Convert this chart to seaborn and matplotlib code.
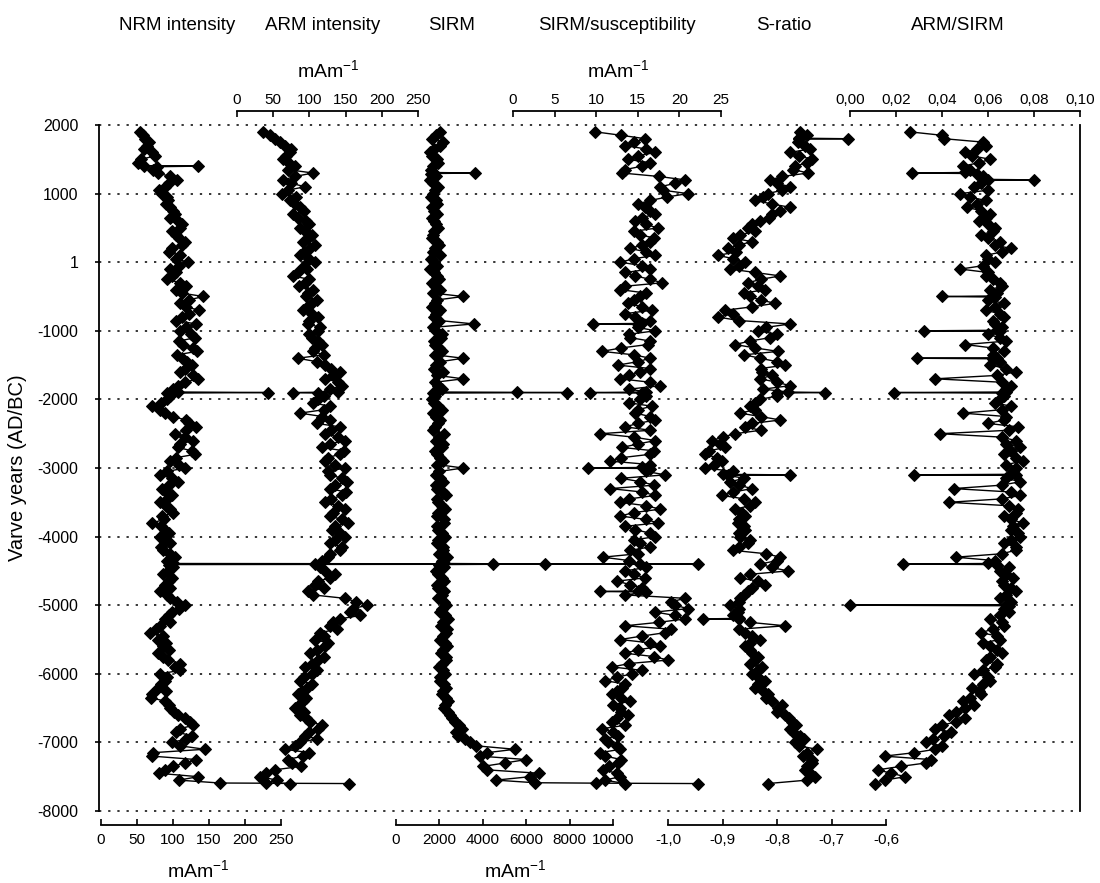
import numpy as np
import pandas as pd
import matplotlib
matplotlib.use("Agg")
import matplotlib.pyplot as plt
import seaborn as sns

# varve years (AD/BC) of the samples, shared by all six profiles
years = [1900, 1800, 1700, 1600, 1500, 1400, 1300, 1200, 1100, 1000,
         900, 800, 700, 600, 500, 400, 300, 200, 100, 0,
         -100, -200, -300, -400, -500, -600, -700, -800, -900, -1000,
         -1100, -1200, -1300, -1400, -1500, -1600, -1700, -1800, -1900, -2000,
         -2100, -2200, -2300, -2400, -2500, -2600, -2700, -2800, -2900, -3000,
         -3100, -3200, -3300, -3400, -3500, -3600, -3700, -3800, -3900, -4000,
         -4100, -4200, -4300, -4400, -4500, -4600, -4700, -4800, -4900, -5000,
         -5100, -5200, -5300, -5400, -5500, -5600, -5700, -5800, -5900, -6000,
         -6100, -6200, -6300, -6400, -6500, -6600, -6700, -6800, -6900, -7000,
         -7100, -7200, -7300, -7400, -7500, -7600]
# samples in between
mid_years = [1850, 1750, 1650, 1550, 1450, 1350, 1250, 1150, 1050, 950,
             850, 750, 650, 550, 450, 350, 250, 150, 50, -50,
             -150, -250, -350, -450, -550, -650, -750, -850, -950, -1050,
             -1150, -1250, -1350, -1450, -1550, -1650, -1750, -1850, -1950, -2050,
             -2150, -2250, -2350, -2450, -2550, -2650, -2750, -2850, -2950, -3050,
             -3150, -3250, -3350, -3450, -3550, -3650, -3750, -3850, -3950, -4050,
             -4150, -4250, -4350, -4450, -4550, -4650, -4750, -4850, -4950, -5050,
             -5150, -5250, -5350, -5450, -5550, -5650, -5750, -5850, -5950, -6050,
             -6150, -6250, -6350, -6450, -6550, -6650, -6750, -6850, -6950, -7050,
             -7150, -7250, -7350, -7450, -7550]

nrm = [54, 61, 64, 71, 56, 135, 79, 106, 89, 85,
       93, 96, 103, 107, 110, 104, 117, 99, 110, 121,
       96, 99, 110, 104, 142, 110, 136, 113, 132, 110,
       131, 114, 133, 113, 126, 110, 135, 107, 232, 92,
       71, 89, 118, 132, 103, 128, 107, 131, 96, 117,
       82, 107, 85, 99, 82, 96, 85, 71, 89, 82,
       96, 86, 103, 829, 93, 99, 89, 82, 96, 117,
       99, 89, 82, 68, 79, 86, 79, 93, 103, 82,
       89, 79, 71, 89, 96, 107, 124, 110, 126, 99,
       144, 71, 117, 89, 135, 344]
nrm_mid = [58, 66, 60, 75, 51, 72, 96, 95, 80, 92,
           90, 100, 96, 112, 98, 108, 112, 94, 104, 108,
           104, 92, 118, 112, 122, 118, 122, 104, 118, 125,
           108, 128, 106, 120, 116, 128, 116, 100, 96, 84,
           82, 100, 122, 118, 116, 110, 126, 104, 108, 92,
           98, 94, 90, 92, 90, 100, 88, 84, 94, 90,
           84, 96, 92, 100, 86, 94, 96, 92, 106, 108,
           94, 96, 76, 86, 90, 94, 86, 110, 110, 92,
           84, 90, 70, 94, 102, 116, 128, 104, 118, 110,
           72, 132, 100, 80, 108]
# extra samples right next to the spikes
nrm_extra_years = [1408, 1392, -1892, -1908, -4392, -4408, -7592]
nrm_extra = [60, 78, 107, 92, 100, 95, 165]

arm = [36, 52, 66, 73, 64, 80, 105, 64, 94, 62,
       73, 87, 77, 95, 87, 104, 91, 101, 87, 108,
       97, 77, 94, 105, 95, 104, 91, 112, 98, 112,
       104, 117, 105, 84, 122, 142, 122, 145, 77, 112,
       128, 87, 128, 142, 122, 149, 117, 142, 122, 149,
       128, 152, 128, 145, 122, 149, 128, 153, 131, 149,
       128, 142, 126, 108, 122, 128, 108, 98, 149, 180,
       156, 142, 128, 115, 108, 122, 101, 112, 94, 104,
       87, 97, 84, 91, 80, 87, 101, 112, 94, 87,
       66, 91, 76, 52, 32, 73]
arm_mid = [45, 60, 75, 68, 72, 70, 80, 75, 70, 82,
           80, 92, 84, 100, 94, 98, 108, 92, 100, 92,
           84, 100, 86, 98, 110, 96, 104, 100, 115, 100,
           112, 108, 120, 110, 130, 132, 140, 128, 120, 105,
           120, 118, 110, 130, 140, 128, 148, 125, 135, 125,
           145, 135, 150, 130, 140, 132, 145, 135, 142, 135,
           145, 128, 118, 115, 135, 112, 120, 105, 165, 160,
           170, 132, 138, 120, 125, 110, 120, 104, 110, 92,
           104, 90, 95, 85, 92, 95, 118, 100, 110, 80,
           100, 70, 88, 40, 55]
arm_extra_years = [-1892, -1908, -7592]
arm_extra = [140, 112, 40]

sirm = [2030, 1660, 2030, 1570, 1890, 1700, 3640, 1570, 1940, 1700,
        1840, 1660, 1890, 1750, 1940, 1700, 1890, 1800, 2030, 1750,
        1570, 1890, 1660, 2030, 3090, 1800, 2030, 1750, 3590, 1840,
        2070, 1800, 2120, 3090, 1840, 2170, 3090, 1940, 7880, 1660,
        1940, 1700, 2030, 1800, 2210, 1840, 2120, 1890, 2170, 3090,
        1840, 2170, 1890, 2300, 1940, 2260, 1890, 2210, 1940, 2260,
        1890, 2170, 2350, 6870, 1840, 2120, 1890, 2210, 1940, 2300,
        2030, 2400, 2070, 2300, 2030, 2350, 2070, 2300, 1980, 2260,
        2030, 2300, 2120, 2400, 2210, 2490, 2720, 3040, 2860, 3410,
        5480, 3870, 5020, 4190, 6180, 13900]
sirm_mid = [1850, 2150, 1750, 1650, 1950, 1600, 1850, 1700, 1800, 1600,
            1900, 1750, 1650, 1850, 1750, 1650, 2000, 1700, 1600, 1900,
            1750, 2000, 1800, 1700, 1900, 1650, 1850, 2000, 1700, 2100,
            1750, 2000, 1800, 2050, 1750, 1900, 1800, 2100, 1800, 1750,
            2100, 1850, 1950, 1700, 2000, 2150, 1800, 2050, 1900, 2000,
            2050, 1850, 2150, 1900, 2100, 1950, 2200, 1900, 2100, 1950,
            2150, 2000, 2100, 2200, 1950, 2200, 1950, 2100, 2200, 2100,
            2250, 2150, 2350, 2150, 2250, 2150, 2300, 2100, 2150, 2050,
            2200, 2150, 2300, 2250, 2400, 2600, 2900, 2750, 3200, 3700,
            4200, 6000, 4000, 6600, 4600]
sirm_extra_years = [1308, 1292, -1892, -1896, -1908, -4392, -4396, -4408, -7588, -7594]
sirm_extra = [1700, 1600, 1900, 5580, 1700, 2200, 4470, 2000, 6400, 9200]

sirm_susc = [9.9, 15.9, 13.5, 17.1, 13.8, 15.5, 13.1, 20.7, 17.7, 21.0,
             16.5, 15.9, 17.1, 14.7, 17.4, 15.3, 16.5, 14.1, 17.1, 12.9,
             16.5, 14.7, 17.9, 12.9, 15.3, 13.8, 16.7, 14.7, 9.6, 17.1,
             14.1, 16.2, 10.7, 16.5, 12.6, 15.3, 12.9, 17.7, 9.3, 15.3,
             16.7, 14.7, 17.1, 13.5, 10.5, 17.1, 13.1, 16.5, 11.7, 9.0,
             18.3, 15.3, 11.7, 17.1, 12.9, 17.7, 12.9, 17.4, 14.7, 17.1,
             15.3, 14.1, 10.8, 15.3, 13.5, 15.9, 14.1, 10.5, 20.7, 19.5,
             17.1, 20.7, 13.5, 18.3, 12.9, 17.7, 13.5, 18.6, 11.9, 14.3,
             11.1, 13.1, 11.9, 14.1, 12.9, 13.8, 11.9, 10.7, 12.6, 11.4,
             12.9, 11.1, 12.6, 10.8, 12.9, 13.5]
susc_mid = [13.0, 14.5, 16.0, 15.0, 16.5, 13.5, 17.5, 19.5, 18.0, 18.5,
            15.0, 16.5, 15.5, 16.0, 14.5, 17.0, 15.5, 16.0, 14.5, 15.5,
            13.5, 16.5, 13.5, 16.0, 14.5, 15.5, 13.5, 16.5, 15.0, 14.0,
            16.5, 13.0, 14.5, 15.0, 16.5, 14.0, 16.5, 14.0, 16.0, 14.0,
            15.0, 16.5, 15.0, 16.5, 14.5, 15.0, 17.0, 13.0, 16.5, 16.0,
            13.0, 17.0, 15.5, 14.0, 16.0, 14.5, 16.0, 13.5, 16.5, 14.5,
            16.5, 15.0, 14.0, 16.0, 14.5, 12.5, 15.5, 13.5, 19.0, 21.0,
            19.5, 17.5, 19.0, 15.5, 16.5, 15.0, 17.0, 14.0, 15.5, 12.5,
            13.5, 12.5, 13.0, 12.0, 13.0, 12.5, 13.5, 12.0, 11.0, 12.5,
            10.5, 13.0, 11.5, 12.5, 11.0]
susc_extra_years = [-892, -908, -1892, -1908, -2992, -3008, -4792, -4808]
susc_extra = [15.5, 15.0, 16.0, 15.5, 15.5, 16.5, 15.0, 16.0]

s_ratio = [-0.758, -0.670, -0.749, -0.776, -0.736, -0.767, -0.743, -0.813, -0.776, -0.817,
           -0.840, -0.776, -0.809, -0.831, -0.853, -0.868, -0.846, -0.890, -0.908, -0.859,
           -0.886, -0.794, -0.853, -0.822, -0.850, -0.804, -0.895, -0.908, -0.776, -0.835,
           -0.813, -0.877, -0.798, -0.831, -0.785, -0.828, -0.831, -0.776, -0.712, -0.831,
           -0.850, -0.868, -0.794, -0.859, -0.877, -0.919, -0.895, -0.932, -0.901, -0.932,
           -0.776, -0.886, -0.846, -0.901, -0.840, -0.877, -0.859, -0.872, -0.859, -0.868,
           -0.853, -0.881, -0.794, -0.831, -0.780, -0.868, -0.822, -0.853, -0.868, -0.886,
           -0.872, -0.936, -0.785, -0.859, -0.831, -0.859, -0.846, -0.840, -0.828, -0.846,
           -0.822, -0.840, -0.817, -0.809, -0.798, -0.785, -0.772, -0.776, -0.758, -0.767,
           -0.727, -0.752, -0.736, -0.749, -0.730, -0.817]
sratio_mid = [-0.745, -0.762, -0.740, -0.760, -0.745, -0.770, -0.790, -0.800, -0.790, -0.825,
              -0.810, -0.795, -0.815, -0.845, -0.840, -0.880, -0.870, -0.875, -0.880, -0.870,
              -0.840, -0.830, -0.835, -0.860, -0.830, -0.845, -0.880, -0.870, -0.820, -0.800,
              -0.850, -0.840, -0.860, -0.800, -0.830, -0.810, -0.800, -0.825, -0.800, -0.840,
              -0.840, -0.830, -0.845, -0.830, -0.900, -0.905, -0.925, -0.910, -0.915, -0.880,
              -0.860, -0.870, -0.880, -0.860, -0.850, -0.865, -0.870, -0.860, -0.870, -0.850,
              -0.870, -0.820, -0.800, -0.810, -0.850, -0.835, -0.845, -0.860, -0.870, -0.870,
              -0.880, -0.850, -0.870, -0.845, -0.850, -0.850, -0.835, -0.850, -0.835, -0.835,
              -0.835, -0.825, -0.820, -0.790, -0.800, -0.778, -0.765, -0.770, -0.750, -0.760,
              -0.745, -0.735, -0.745, -0.740, -0.745]
sratio_extra_years = [1808, 1792, -1892, -1908, -3092, -3108, -5192, -5208]
sratio_extra = [-0.76, -0.76, -0.78, -0.80, -0.90, -0.89, -0.87, -0.87]

arm_sirm = [0.026, 0.041, 0.059, 0.050, 0.061, 0.049, 0.027, 0.080, 0.054, 0.048,
            0.059, 0.051, 0.061, 0.056, 0.063, 0.057, 0.065, 0.070, 0.059, 0.063,
            0.048, 0.059, 0.065, 0.061, 0.040, 0.067, 0.059, 0.067, 0.063, 0.032,
            0.065, 0.050, 0.067, 0.029, 0.061, 0.072, 0.037, 0.070, 0.019, 0.065,
            0.070, 0.049, 0.067, 0.073, 0.039, 0.072, 0.074, 0.067, 0.075, 0.072,
            0.028, 0.074, 0.045, 0.074, 0.043, 0.073, 0.067, 0.075, 0.070, 0.074,
            0.067, 0.072, 0.046, 0.023, 0.065, 0.071, 0.067, 0.072, 0.065, 0.000,
            0.069, 0.061, 0.067, 0.057, 0.065, 0.061, 0.066, 0.059, 0.063, 0.054,
            0.061, 0.053, 0.057, 0.049, 0.050, 0.043, 0.046, 0.037, 0.041, 0.033,
            0.037, 0.015, 0.033, 0.012, 0.024, 0.011]
armsirm_mid = [0.040, 0.058, 0.055, 0.053, 0.056, 0.052, 0.058, 0.057, 0.060, 0.052,
               0.055, 0.057, 0.059, 0.060, 0.062, 0.060, 0.063, 0.066, 0.060, 0.058,
               0.060, 0.062, 0.066, 0.064, 0.060, 0.063, 0.065, 0.062, 0.066, 0.060,
               0.068, 0.062, 0.062, 0.065, 0.068, 0.064, 0.066, 0.068, 0.067, 0.063,
               0.066, 0.068, 0.060, 0.069, 0.066, 0.068, 0.070, 0.072, 0.068, 0.071,
               0.068, 0.066, 0.070, 0.066, 0.069, 0.072, 0.070, 0.071, 0.073, 0.070,
               0.072, 0.066, 0.063, 0.069, 0.068, 0.066, 0.070, 0.068, 0.070, 0.067,
               0.065, 0.066, 0.062, 0.064, 0.058, 0.064, 0.061, 0.064, 0.058, 0.060,
               0.058, 0.056, 0.052, 0.054, 0.046, 0.050, 0.040, 0.044, 0.036, 0.040,
               0.028, 0.035, 0.022, 0.018, 0.015]
armsirm_extra_years = [1308, 1292, 1208, 1192, -492, -508, -992, -1008, -1392, -1408,
                       -1892, -1908, -3092, -3108, -4392, -4408, -4992, -5008]
armsirm_extra = [0.050, 0.055, 0.058, 0.060, 0.062, 0.063, 0.064, 0.065, 0.064, 0.062,
                 0.068, 0.066, 0.070, 0.072, 0.060, 0.064, 0.068, 0.069]

titles = ["NRM intensity", "ARM intensity", "SIRM", "SIRM/susceptibility", "S-ratio", "ARM/SIRM"]
year_ticks = [2000, 1000, 0, -1000, -2000, -3000, -4000, -5000, -6000, -7000, -8000]
year_labels = ["2000", "1000", "1", "-1000", "-2000", "-3000", "-4000", "-5000", "-6000", "-7000", "-8000"]
nrm_ticks = [0, 50, 100, 150, 200, 250]
arm_ticks = [0, 50, 100, 150, 200, 250]
sirm_ticks = [0, 2000, 4000, 6000, 8000, 10000]
susc_ticks = [0, 5, 10, 15, 20, 25]
sratio_ticks = [-1.0, -0.9, -0.8, -0.7, -0.6]
sratio_labels = ["-1,0", "-0,9", "-0,8", "-0,7", "-0,6"]
armsirm_ticks = [0.0, 0.02, 0.04, 0.06, 0.08, 0.10]
armsirm_labels = ["0,00", "0,02", "0,04", "0,06", "0,08", "0,10"]

sns.set_theme(style="white")
plt.rcParams["font.family"] = ["Liberation Sans", "DejaVu Sans"]
plt.rcParams["mathtext.default"] = "regular"

W, H = 1100, 883
X0, X1, YT, YB = 99, 1080, 125, 811

fig = plt.figure(figsize=(11, 8.83), dpi=100)
ax = fig.add_axes([X0 / W, (H - YB) / H, (X1 - X0) / W, (YB - YT) / H])


def span(v0, v1, p0, p1):
    k = (p1 - p0) / (v1 - v0)
    return v0 - (p0 - X0) / k, v0 + (X1 - p0) / k


# (values, mid values, extra years, extra values, side, value range, pixel range, ticks, labels)
profiles = [
    (nrm, nrm_mid, nrm_extra_years, nrm_extra, "bottom", (0, 250), (101, 281),
     nrm_ticks, [str(t) for t in nrm_ticks]),
    (arm, arm_mid, arm_extra_years, arm_extra, "top", (0, 250), (237, 418),
     arm_ticks, [str(t) for t in arm_ticks]),
    (sirm, sirm_mid, sirm_extra_years, sirm_extra, "bottom", (0, 10000), (396, 613),
     sirm_ticks, [str(t) for t in sirm_ticks]),
    (sirm_susc, susc_mid, susc_extra_years, susc_extra, "top", (0, 25), (513, 721),
     susc_ticks, [str(t) for t in susc_ticks]),
    (s_ratio, sratio_mid, sratio_extra_years, sratio_extra, "bottom", (-1.0, -0.6), (668, 886),
     sratio_ticks, sratio_labels),
    (arm_sirm, armsirm_mid, armsirm_extra_years, armsirm_extra, "top", (0.0, 0.10), (850, 1080),
     armsirm_ticks, armsirm_labels),
]

for vals, mids, ex_y, ex_v, side, vr, pr, ticks, labels in profiles:
    tw = ax.twiny()
    df = pd.concat([pd.DataFrame({"v": vals, "year": years}),
                    pd.DataFrame({"v": mids, "year": mid_years}),
                    pd.DataFrame({"v": ex_v, "year": ex_y})])
    df = df.sort_values("year", ascending=False, kind="stable")
    sns.lineplot(data=df, x="v", y="year", ax=tw, sort=False, estimator=None,
                 orient="y", color="black", marker="D", markersize=6,
                 markeredgecolor="black", linewidth=1.0)
    tw.set_xlim(*span(vr[0], vr[1], pr[0], pr[1]))
    tw.set_xlabel("")
    tw.set_ylabel("")
    for s in ["left", "right", "top", "bottom"]:
        tw.spines[s].set_visible(s == side)
    sp = tw.spines[side]
    sp.set_position(("outward", 10))
    sp.set_bounds(vr[0], vr[1])
    sp.set_color("black")
    sp.set_linewidth(1.3)
    if side == "bottom":
        tw.xaxis.set_ticks_position("bottom")
        pad = 6
    else:
        tw.xaxis.set_ticks_position("top")
        pad = 3
    tw.set_xticks(ticks, labels)
    tw.tick_params(axis="x", direction="in", length=4, width=1.2, color="black",
                   labelsize=11, pad=pad, labelcolor="black")

ax.set_xlim(X0, X1)
ax.set_ylim(-8000, 2000)
ax.tick_params(axis="x", bottom=False, top=False, labelbottom=False, labeltop=False)
ax.set_yticks(year_ticks, year_labels)
ax.tick_params(axis="y", direction="out", length=3, width=1.2, color="black",
               labelsize=11.5, pad=12, left=True, labelcolor="black")
ax.grid(False)
ax.yaxis.grid(True, color="black", linestyle=(0, (1.5, 4.5)), linewidth=1.1)
for gl in ax.yaxis.get_gridlines():
    gl.set_clip_on(False)
for s in ["top", "bottom"]:
    ax.spines[s].set_visible(False)
for s in ["left", "right"]:
    ax.spines[s].set_visible(True)
    ax.spines[s].set_color("black")
    ax.spines[s].set_linewidth(1.3)

title_x = [177, 323, 452, 617, 784, 958]
for t, x in zip(titles, title_x):
    fig.text(x / W, 1 - 25 / H, t, ha="center", va="center", fontsize=13.5, color="black")

for x, y in [(328, 70), (618, 70), (198, 870), (515, 870)]:
    fig.text(x / W, 1 - y / H, "mAm$^{-1}$", ha="center", va="center", fontsize=14, color="black")

fig.text(18 / W, 1 - 468 / H, "Varve years (AD/BC)", rotation=90, ha="center",
         va="center", fontsize=14.5, color="black")

fig.savefig("out.png", dpi=100)
